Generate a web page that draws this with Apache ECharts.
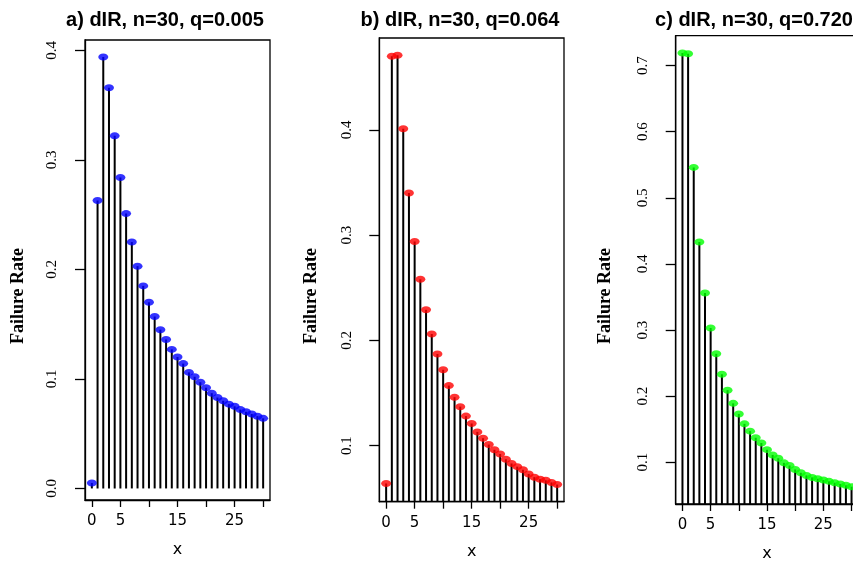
<!DOCTYPE html>
<html>
<head>
<meta charset="utf-8">
<script src="https://cdn.jsdelivr.net/npm/echarts@6/dist/echarts.min.js"></script>
<style>
html,body{margin:0;padding:0;background:#fff;}
#chart{width:853px;height:561px;}
</style>
</head>
<body>
<div id="chart"></div>
<script>
// ---- data ----
const xValues = [0,1,2,3,4,5,6,7,8,9,10,11,12,13,14,15,16,17,18,19,20,21,22,23,24,25,26,27,28,29,30];
const valuesA = [0.005,0.263,0.394,0.366,0.322,0.284,0.251,0.225,0.203,0.185,0.170,0.157,0.145,0.136,0.127,0.120,0.114,0.106,0.102,0.097,0.092,0.087,0.083,0.080,0.077,0.075,0.072,0.070,0.068,0.066,0.064];
const valuesB = [0.064,0.470,0.471,0.401,0.340,0.294,0.258,0.229,0.206,0.187,0.172,0.157,0.146,0.137,0.128,0.121,0.113,0.107,0.101,0.096,0.092,0.087,0.083,0.080,0.077,0.073,0.070,0.068,0.067,0.065,0.063];
const valuesC = [0.719,0.718,0.546,0.433,0.356,0.303,0.264,0.233,0.209,0.189,0.173,0.158,0.147,0.137,0.129,0.119,0.111,0.106,0.099,0.095,0.089,0.084,0.080,0.077,0.075,0.073,0.071,0.069,0.067,0.065,0.063];
const titles = ['a) dIR, n=30, q=0.005','b) dIR, n=30, q=0.064','c) dIR, n=30, q=0.720'];
const yTicksA = [0.0,0.1,0.2,0.3,0.4];
const yTicksB = [0.1,0.2,0.3,0.4];
const yTicksC = [0.1,0.2,0.3,0.4,0.5,0.6,0.7];
const xTicks = [0,5,10,15,20,25,30];
const xTickLabels = [0,5,15,25];
const yLabel = 'Failure Rate';
const xLabel = 'x';

// ---- layout / style ----
const panels = [
  {vals: valuesA, yTicks: yTicksA, color: '#0000ff', box: {left: 85, top: 40, width: 185, height: 460}, titleX: 160, ylabX: 18},
  {vals: valuesB, yTicks: yTicksB, color: '#ff0000', box: {left: 379.3, top: 38, width: 184.7, height: 463.7}, titleX: 455, ylabX: 311},
  {vals: valuesC, yTicks: yTicksC, color: '#00ff00', box: {left: 675.7, top: 35.7, width: 182.6, height: 468.3}, titleX: 749, ylabX: 605}
];

function rng(arr) {
  const lo = Math.min.apply(null, arr), hi = Math.max.apply(null, arr);
  const d = (hi - lo) * 0.04;
  return [lo - d, hi + d];
}
const xr = rng(xValues);

const grid = [], xAxis = [], yAxis = [], series = [], title = [], graphic = [];
panels.forEach((p, i) => {
  const yr = rng(p.vals);
  grid.push(Object.assign({show: true, borderColor: '#000', borderWidth: 1.3, backgroundColor: 'transparent', outerBoundsMode: 'none', containLabel: false}, p.box));
  xAxis.push({
    gridIndex: i, type: 'value', min: xr[0], max: xr[1],
    splitLine: {show: false},
    axisLine: {show: true, onZero: false, lineStyle: {color: '#000', width: 1.3}},
    axisTick: {show: true, length: 7, lineStyle: {color: '#000', width: 1.3}, customValues: xTicks},
    axisLabel: {show: true, margin: 14, color: '#000', fontFamily: 'DejaVu Sans', fontSize: 15, customValues: xTickLabels},
    name: xLabel, nameLocation: 'middle', nameGap: 42,
    nameTextStyle: {color: '#000', fontFamily: 'DejaVu Sans', fontSize: 16}
  });
  yAxis.push({
    gridIndex: i, type: 'value', min: yr[0], max: yr[1],
    splitLine: {show: false},
    axisLine: {show: true, onZero: false, lineStyle: {color: '#000', width: 1.3}},
    axisTick: {show: true, length: 10, lineStyle: {color: '#000', width: 1.3}, customValues: p.yTicks},
    axisLabel: {show: true, rotate: 90, margin: 25, color: '#000', fontFamily: 'Liberation Serif', fontSize: 15,
      customValues: p.yTicks, formatter: v => Number(v).toFixed(1)}
  });
  const pts = xValues.map((x, k) => [x, p.vals[k]]);
  series.push({
    type: 'bar', xAxisIndex: i, yAxisIndex: i, data: pts, barWidth: 2,
    itemStyle: {color: '#000'}, silent: true, animation: false, z: 2
  });
  series.push({
    type: 'scatter', xAxisIndex: i, yAxisIndex: i, data: pts, symbol: 'circle', symbolSize: [10, 7],
    itemStyle: {color: p.color}, silent: true, animation: false, z: 3
  });
  title.push({
    text: titles[i], left: p.titleX, top: 5, textAlign: 'center',
    textStyle: {fontFamily: 'Liberation Sans', fontWeight: 'bold', fontSize: 20, color: '#000'}
  });
  graphic.push({
    type: 'text', x: p.ylabX, y: 296, rotation: Math.PI / 2,
    style: {text: yLabel, fill: '#000', font: 'bold 18px "Liberation Serif"', align: 'center', verticalAlign: 'middle'}
  });
});

const chart = echarts.init(document.getElementById('chart'), null, {renderer: 'canvas'});
chart.setOption({animation: false, backgroundColor: '#fff', title, grid, xAxis, yAxis, series, graphic});
</script>
</body>
</html>
